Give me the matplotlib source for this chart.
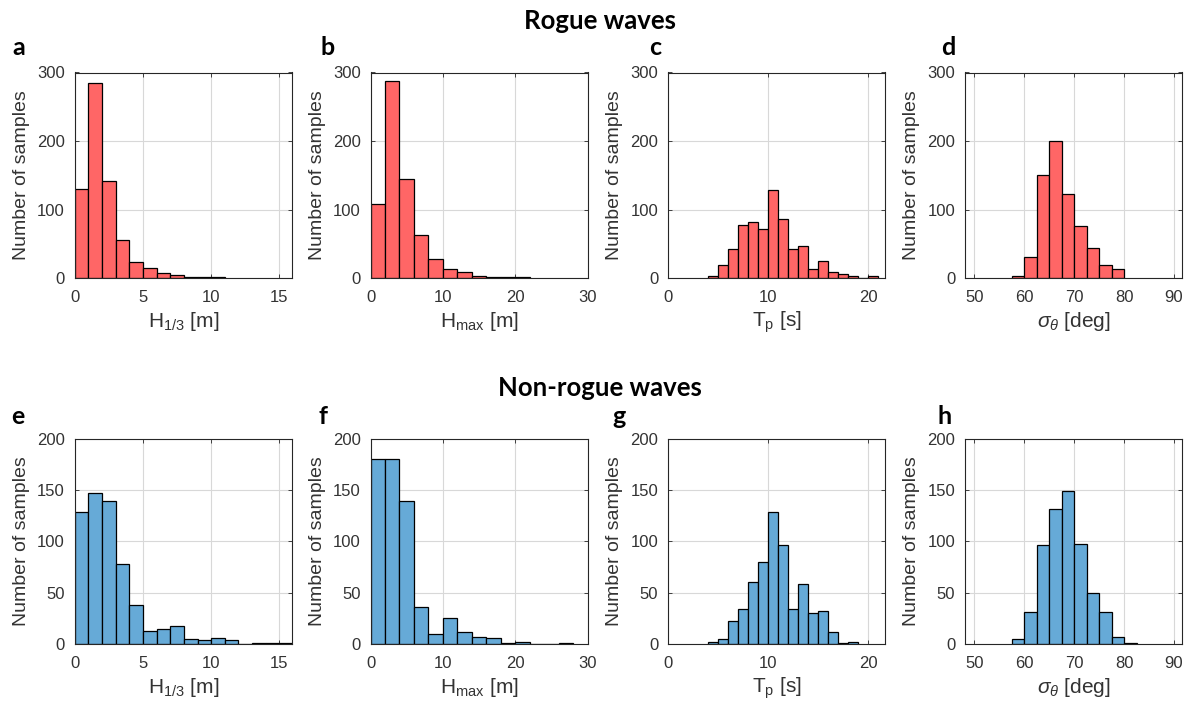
import numpy as np
import matplotlib
matplotlib.use("Agg")
import matplotlib.pyplot as plt

# ---- histogram data: first bin edge, bin width, counts per bin ----
# Rogue waves
rogue_h13_start, rogue_h13_width = 0.0, 1.0
rogue_h13_counts = [130, 285, 142, 55, 23, 14, 7, 4, 2, 1, 1]

rogue_hmax_start, rogue_hmax_width = 0.0, 2.0
rogue_hmax_counts = [108, 287, 144, 63, 28, 13, 9, 3, 1, 1, 1]

rogue_tp_start, rogue_tp_width = 4.0, 1.0
rogue_tp_counts = [3, 19, 42, 77, 82, 72, 128, 86, 42, 47, 13, 25, 9, 6, 3, 0, 3]

rogue_sig_start, rogue_sig_width = 57.5, 2.5
rogue_sig_counts = [3, 31, 151, 200, 122, 76, 44, 19, 13]

# Non-rogue waves
non_h13_start, non_h13_width = 0.0, 1.0
non_h13_counts = [128, 147, 139, 78, 38, 13, 15, 18, 5, 4, 6, 4, 0, 1, 1, 1]

non_hmax_start, non_hmax_width = 0.0, 2.0
non_hmax_counts = [180, 180, 139, 36, 10, 25, 12, 7, 6, 1, 2, 0, 0, 1]

non_tp_start, non_tp_width = 4.0, 1.0
non_tp_counts = [2, 5, 22, 34, 60, 80, 128, 96, 34, 58, 30, 32, 12, 1, 2]

non_sig_start, non_sig_width = 57.5, 2.5
non_sig_counts = [5, 31, 96, 131, 149, 97, 50, 31, 7, 1]

# axis settings per column
x_labels = [r"H$_{\mathregular{1/3}}$ [m]", r"H$_{\mathregular{max}}$ [m]",
            r"T$_{\mathregular{p}}$ [s]", r"$\sigma_\theta$ [deg]"]
x_ticks = [[0, 5, 10, 15], [0, 10, 20, 30], [0, 10, 20], [50, 60, 70, 80, 90]]
x_lims = [(0, 15.9), (0, 30), (0, 21.7), (48.1, 91.6)]
rogue_yticks = [0, 100, 200, 300]
non_yticks = [0, 50, 100, 150, 200]
row_titles = ["Rogue waves", "Non-rogue waves"]
panel_letters = [["a", "b", "c", "d"], ["e", "f", "g", "h"]]

RED = (1.0, 0.4, 0.4)
BLUE = (0.4, 0.667, 0.843)
AX_COL = "#262626"

plt.rcParams["font.family"] = ["Liberation Sans", "DejaVu Sans"]
plt.rcParams["mathtext.fontset"] = "custom"
plt.rcParams["mathtext.rm"] = "Liberation Sans"
plt.rcParams["mathtext.it"] = "Liberation Sans:italic"
plt.rcParams["mathtext.bf"] = "Liberation Sans:bold"

W, H = 1200, 707
fig = plt.figure(figsize=(W / 100, H / 100), dpi=100)


def px_axes(left, top, width, height):
    return fig.add_axes([left / W, 1 - (top + height) / H, width / W, height / H])


def draw_hist(ax, start, width, counts, color):
    counts = np.asarray(counts)
    edges = start + width * np.arange(len(counts) + 1)
    ax.bar(edges[:-1], counts, width=width, align="edge", color=color,
           edgecolor="black", linewidth=0.9, zorder=2)


rows = [
    dict(data=[(rogue_h13_start, rogue_h13_width, rogue_h13_counts),
               (rogue_hmax_start, rogue_hmax_width, rogue_hmax_counts),
               (rogue_tp_start, rogue_tp_width, rogue_tp_counts),
               (rogue_sig_start, rogue_sig_width, rogue_sig_counts)],
         color=RED, yticks=rogue_yticks, top=72.5),
    dict(data=[(non_h13_start, non_h13_width, non_h13_counts),
               (non_hmax_start, non_hmax_width, non_hmax_counts),
               (non_tp_start, non_tp_width, non_tp_counts),
               (non_sig_start, non_sig_width, non_sig_counts)],
         color=BLUE, yticks=non_yticks, top=438.5),
]
col_left = [74.7, 370.5, 668.0, 965.0]
ax_w, ax_h = 217.0, 205.5

for r, row in enumerate(rows):
    for c, (start, width, counts) in enumerate(row["data"]):
        ax = px_axes(col_left[c], row["top"], ax_w, ax_h)
        draw_hist(ax, start, width, counts, row["color"])
        ax.set_xlim(*x_lims[c])
        ax.set_ylim(row["yticks"][0], row["yticks"][-1])
        ax.set_xticks(x_ticks[c])
        ax.set_yticks(row["yticks"])
        ax.grid(True, color="#d8d8d8", linewidth=0.8, zorder=0)
        ax.set_axisbelow(True)
        for s in ax.spines.values():
            s.set_color(AX_COL)
            s.set_linewidth(0.8)
            s.set_zorder(3)
        ax.tick_params(direction="in", length=3, width=0.6, top=True, right=True,
                       colors=AX_COL, labelsize=12, labelcolor="#333333")
        ax.tick_params(axis="x", pad=9)
        ax.tick_params(axis="y", pad=7)
        ax.set_xlabel(x_labels[c], fontsize=15, color="#333333", labelpad=3)
        ax.set_ylabel("Number of samples", fontsize=14, color="#333333", labelpad=5)

# row titles and panel letters
title_base = [29, 396]
letter_base = [55, 424]
letter_x = [[19, 328, 655, 948], [18, 323, 619, 945]]
for r in range(2):
    fig.text(0.5, 1 - title_base[r] / H, row_titles[r], ha="center", va="baseline",
             fontsize=18.5, fontweight="bold", family="Lato")
    for c in range(4):
        fig.text(letter_x[r][c] / W, 1 - letter_base[r] / H, panel_letters[r][c],
                 ha="center", va="baseline", fontsize=18, fontweight="bold", family="Lato")

fig.savefig("out.png", dpi=100)
